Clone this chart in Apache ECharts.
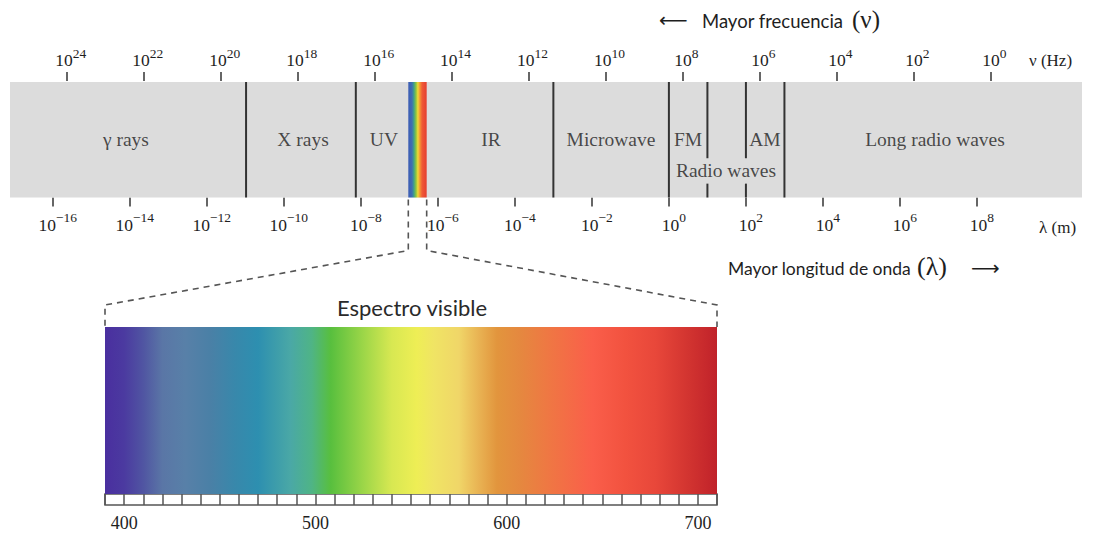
<!DOCTYPE html>
<html>
<head>
<meta charset="utf-8">
<script src="https://cdn.jsdelivr.net/npm/echarts@6/dist/echarts.min.js"></script>
<style>
  html, body { margin: 0; padding: 0; background: #ffffff; }
  #chart { width: 1093px; height: 533px; }
</style>
</head>
<body>
<div id="chart"></div>
<script>
// ---- Electromagnetic spectrum, log10 scales ----
// Wavelength span of the band, log10(λ / m)
const lambdaRange = [-17.11, 10.727];
// Frequency span of the same band, log10(ν / Hz), drawn above it
const nuRange = [-2.383, 25.476];
const lambdaTicks = [-16, -14, -12, -10, -8, -6, -4, -2, 0, 2, 4, 6, 8];
const nuTicks = [24, 22, 20, 18, 16, 14, 12, 10, 8, 6, 4, 2, 0];

// Region boundaries, log10(λ)
const fullDividers = [-10.98, -8.13, -3.0, 0.0, 3.0];
// FM / AM boundaries, interrupted by the "Radio waves" label
const splitDividers = [1.0, 2.0];
const radioGap = [0.12, 0.34];
// Visible light inside the band, log10(λ)
const visibleBand = [-6.767, -6.29];

const regionNames = ['γ rays', 'X rays', 'UV', 'IR', 'Microwave', 'FM', 'AM', 'Radio waves', 'Long radio waves'];
const regionX = [-14.10, -9.50, -7.40, -4.62, -1.503, 0.496, 2.495, 1.483, 6.91];
const regionY = [0.5, 0.5, 0.5, 0.5, 0.5, 0.5, 0.5, 0.23, 0.5];

// Colours of the thin visible stripe (offsets along the stripe)
const stripeOffsets = [0, 0.2, 0.3, 0.42, 0.52, 0.62, 0.75, 1];
const stripeColors = ['#3b5bb5', '#3f6fb0', '#3fa08a', '#8cc63e', '#f0d838', '#f39a33', '#ef5a36', '#e53e30'];

// ---- Visible spectrum, nm ----
const visibleRange = [390, 710];
const visibleTickStep = 10;
const spectrumNm = [390, 400, 410, 420, 432, 445, 458, 470, 487, 498, 508, 525, 540, 553, 562, 575, 585, 595, 607, 622, 645, 662, 678, 695, 710];
const spectrumColors = ['#4a2f9f', '#4b3aa0', '#5055a2', '#5a76a6', '#5880a8', '#4a80a6', '#3888ab', '#2d8fb0', '#4aa8a6', '#4fb486', '#58bf3e', '#9cd648', '#d8e852', '#eeee55', '#f0e464', '#f0d668', '#e9b454', '#e2953d', '#e5883f', '#ef7743', '#fa5e4a', '#f2523f', '#e8473a', '#d23430', '#c0222a'];

const serif = "'Liberation Serif', 'DejaVu Serif', serif";
const sans = "Lato, 'Open Sans', sans-serif";
const ink = '#1e1e1e';

function powerLabel(v) {
  const exp = v < 0 ? '\u2212' + (-v) : String(v);
  return '{b|10}{s|' + exp + '}';
}
const powerRich = {
  b: { fontFamily: serif, fontSize: 17.5, color: ink, lineHeight: 23, verticalAlign: 'bottom' },
  s: { fontFamily: serif, fontSize: 13.5, color: ink, lineHeight: 14, verticalAlign: 'top' }
};

const chart = echarts.init(document.getElementById('chart'), null, { renderer: 'svg' });

const option = {
  animation: false,
  backgroundColor: '#ffffff',
  grid: [
    { left: 10, width: 1072, top: 82, height: 115.5 },
    { left: 105, width: 612, top: 327, height: 167 },
    { left: 105, width: 612, top: 494, height: 11, show: true, backgroundColor: '#ffffff', borderColor: '#555555', borderWidth: 1.5 }
  ],
  xAxis: [
    { // wavelength, below the band
      type: 'value', gridIndex: 0, position: 'bottom', offset: 2,
      min: lambdaRange[0], max: lambdaRange[1],
      axisLine: { show: false }, splitLine: { show: false },
      axisTick: { show: true, length: 9, lineStyle: { color: '#333', width: 1.5 }, customValues: lambdaTicks },
      axisLabel: { customValues: lambdaTicks, margin: 11, formatter: powerLabel, rich: powerRich, padding: [0, 0, 0, 10] }
    },
    { // frequency, above the band
      type: 'value', gridIndex: 0, position: 'top', offset: 1, inverse: true,
      min: nuRange[0], max: nuRange[1],
      axisLine: { show: false }, splitLine: { show: false },
      axisTick: { show: true, length: 9, lineStyle: { color: '#333', width: 1.5 }, customValues: nuTicks },
      axisLabel: { customValues: nuTicks, margin: 12, formatter: powerLabel, rich: powerRich, padding: [0, 0, 0, 8] }
    },
    { // visible spectrum strip
      type: 'value', gridIndex: 1, min: visibleRange[0], max: visibleRange[1], show: false
    },
    { // ruler under the strip
      type: 'value', gridIndex: 2, min: visibleRange[0], max: visibleRange[1], interval: visibleTickStep,
      axisLine: { show: false }, axisTick: { show: false },
      splitLine: { show: true, lineStyle: { color: '#555555', width: 1.5 } },
      axisLabel: {
        margin: 9, fontFamily: serif, fontSize: 18, color: ink,
        formatter: v => (v % 100 === 0 ? String(v) : '')
      }
    }
  ],
  yAxis: [
    { type: 'value', gridIndex: 0, min: 0, max: 1, show: false },
    { type: 'value', gridIndex: 1, min: 0, max: 1, show: false },
    { type: 'value', gridIndex: 2, min: 0, max: 1, show: false }
  ],
  series: [
    { // grey band
      type: 'custom', xAxisIndex: 0, yAxisIndex: 0, silent: true, z: 1,
      data: [[lambdaRange[0], lambdaRange[1]]],
      renderItem: (params, api) => {
        const p0 = api.coord([api.value(0), 1]);
        const p1 = api.coord([api.value(1), 0]);
        return { type: 'rect', shape: { x: p0[0], y: p0[1], width: p1[0] - p0[0], height: p1[1] - p0[1] }, style: { fill: '#dcdcdc' } };
      }
    },
    { // visible stripe in the band
      type: 'custom', xAxisIndex: 0, yAxisIndex: 0, silent: true, z: 2,
      data: [visibleBand],
      renderItem: (params, api) => {
        const p0 = api.coord([api.value(0), 1]);
        const p1 = api.coord([api.value(1), 0]);
        const stops = stripeOffsets.map((o, i) => ({ offset: o, color: stripeColors[i] }));
        return { type: 'rect', shape: { x: p0[0], y: p0[1], width: p1[0] - p0[0], height: p1[1] - p0[1] },
          style: { fill: new echarts.graphic.LinearGradient(0, 0, 1, 0, stops) } };
      }
    },
    { // region boundaries
      type: 'custom', xAxisIndex: 0, yAxisIndex: 0, silent: true, z: 3,
      data: fullDividers.map(x => [x, 0, 1])
        .concat(splitDividers.map(x => [x, radioGap[1], 1]))
        .concat(splitDividers.map(x => [x, 0, radioGap[0]])),
      renderItem: (params, api) => {
        const a = api.coord([api.value(0), api.value(1)]);
        const b = api.coord([api.value(0), api.value(2)]);
        return { type: 'line', shape: { x1: a[0], y1: a[1], x2: b[0], y2: b[1] }, style: { stroke: '#333333', lineWidth: 2 } };
      }
    },
    { // region names
      type: 'scatter', xAxisIndex: 0, yAxisIndex: 0, silent: true, z: 4,
      symbolSize: 0,
      data: regionNames.map((n, i) => ({ name: n, value: [regionX[i], regionY[i]] })),
      label: { show: true, position: 'inside', formatter: p => p.name, fontFamily: serif, fontSize: 19.5, color: ink }
    },
    { // visible spectrum
      type: 'custom', xAxisIndex: 2, yAxisIndex: 1, silent: true,
      data: [visibleRange],
      renderItem: (params, api) => {
        const p0 = api.coord([api.value(0), 1]);
        const p1 = api.coord([api.value(1), 0]);
        const span = visibleRange[1] - visibleRange[0];
        const stops = spectrumNm.map((nm, i) => ({ offset: (nm - visibleRange[0]) / span, color: spectrumColors[i] }));
        return { type: 'rect', shape: { x: p0[0], y: p0[1], width: p1[0] - p0[0], height: p1[1] - p0[1] },
          style: { fill: new echarts.graphic.LinearGradient(0, 0, 1, 0, stops) } };
      }
    }
  ]
};

chart.setOption(option);

// Dashed guides from the visible stripe down to the enlarged spectrum
const bandBottom = chart.convertToPixel({ yAxisIndex: 0 }, 0);
const specTop = chart.convertToPixel({ yAxisIndex: 1 }, 1);
const stripeL = chart.convertToPixel({ xAxisIndex: 0 }, visibleBand[0]);
const stripeR = chart.convertToPixel({ xAxisIndex: 0 }, visibleBand[1]);
const specL = chart.convertToPixel({ xAxisIndex: 2 }, visibleRange[0]);
const specR = chart.convertToPixel({ xAxisIndex: 2 }, visibleRange[1]);
const kneeY = bandBottom + 53;
const shoulderY = specTop - 22;
const dash = { stroke: '#555555', lineWidth: 1.6, lineDash: [6, 5], fill: null };

chart.setOption({
  graphic: [
    { type: 'polyline', silent: true, shape: { points: [[stripeL, bandBottom + 2], [stripeL, kneeY], [specL, shoulderY], [specL, specTop]] }, style: dash },
    { type: 'polyline', silent: true, shape: { points: [[stripeR, bandBottom + 2], [stripeR, kneeY], [specR, shoulderY], [specR, specTop]] }, style: dash },
    { type: 'text', silent: true, x: (specL + specR) / 2 + 1, y: specTop - 20,
      style: { text: 'Espectro visible', font: '22px ' + sans, fill: '#2a2a2a', align: 'center', verticalAlign: 'middle' } },
    { type: 'text', silent: true, x: 1029, y: 60,
      style: { text: 'ν (Hz)', font: '17px ' + serif, fill: ink, align: 'left', verticalAlign: 'middle' } },
    { type: 'text', silent: true, x: 1039, y: 227,
      style: { text: 'λ (m)', font: '17px ' + serif, fill: ink, align: 'left', verticalAlign: 'middle' } },
    { type: 'text', silent: true, x: 659, y: 20,
      style: { text: '\u27F5', font: '20px ' + "'DejaVu Sans', sans-serif", fill: ink, align: 'left', verticalAlign: 'middle' } },
    { type: 'text', silent: true, x: 702, y: 21,
      style: { text: 'Mayor frecuencia', font: '18.5px ' + sans, fill: ink, align: 'left', verticalAlign: 'middle' } },
    { type: 'text', silent: true, x: 852, y: 19,
      style: { text: '(ν)', font: '25px ' + serif, fill: ink, align: 'left', verticalAlign: 'middle' } },
    { type: 'text', silent: true, x: 728, y: 268,
      style: { text: 'Mayor longitud de onda', font: '17.5px ' + sans, fill: ink, align: 'left', verticalAlign: 'middle' } },
    { type: 'text', silent: true, x: 917, y: 266,
      style: { text: '(λ)', font: '26px ' + serif, fill: ink, align: 'left', verticalAlign: 'middle' } },
    { type: 'text', silent: true, x: 971, y: 268,
      style: { text: '\u27F6', font: '20px ' + "'DejaVu Sans', sans-serif", fill: ink, align: 'left', verticalAlign: 'middle' } }
  ]
});
</script>
</body>
</html>
